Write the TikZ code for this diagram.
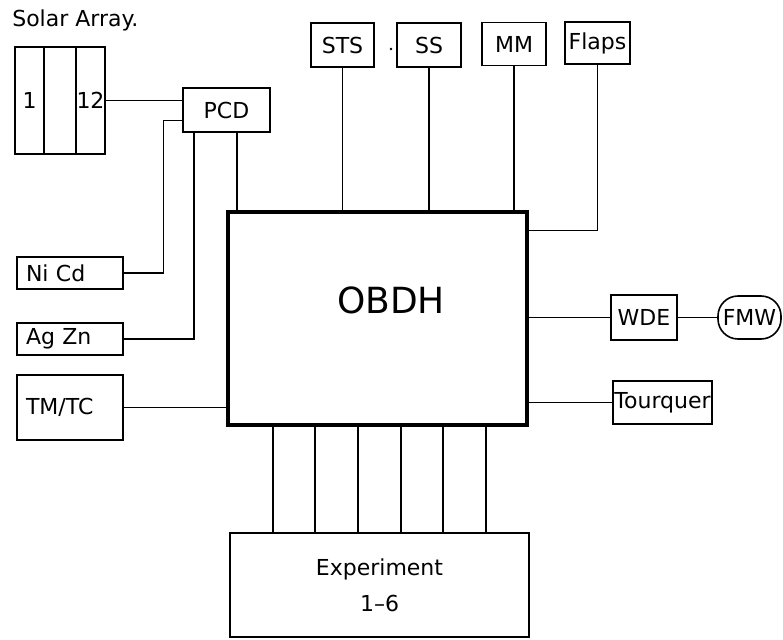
\documentclass[tikz,border=0pt]{standalone}
\usepackage{fontspec}
\setmainfont{DejaVu Sans}
\usepackage{xcolor}

\begin{document}
\begin{tikzpicture}
  [x=1pt,y=-1pt,line width=1.2pt,
   every node/.style={draw,rectangle,line width=1.6pt,inner sep=1.5pt,font=\fontsize{22}{26}\selectfont},
   unit/.style={text width=88pt,align=left,inner xsep=9pt}]
  \useasboundingbox (0,0) rectangle (783,639);

  \node[draw=none,anchor=west] (title) at (10,20) {Solar Array.};
  \node[minimum width=29,minimum height=107] (p1) at (29.5,100.5) {1};
  \node[minimum width=32,minimum height=107] (p2) at (60,100.5)  {};
  \node[minimum width=29,minimum height=107,inner sep=0pt] (p3) at (90.5,100.5) {12};
  \node[minimum width=87,minimum height=44]  (pcd) at (226.5,110) {PCD};

  \node[unit,minimum height=32] (nicd) at (70,273)   {Ni Cd};
  \node[unit,minimum height=32] (agzn) at (70,339)   {Ag Zn};
  \node[unit,minimum height=65] (tmtc) at (70,407.5) {TM/TC};

  \node[line width=3.5pt,minimum width=299,minimum height=213] (obdh) at (377.5,318.5) {};
  \node[draw=none,font=\fontsize{36}{40}\selectfont] (obdhtxt) at (391,300) {OBDH};

  \node[minimum width=63,minimum height=44] (sts)   at (342.5,45) {STS};
  \node[minimum width=64,minimum height=44] (ss)    at (429,45)   {SS};
  \node[minimum width=64,minimum height=43] (mm)    at (514,44)   {MM};
  \node[minimum width=65,minimum height=42,inner sep=0pt] (flaps) at (597.5,43) {Flaps};
  \fill (391,49) circle (1.3pt);

  \node[minimum width=66,minimum height=45] (wde) at (644,317.5) {WDE};
  \node[rounded corners=20pt,minimum width=63,minimum height=43,inner sep=0pt] (fmw) at (749.5,317.5) {FMW};
  \node[minimum width=99,minimum height=43,inner sep=0pt] (tq) at (662.5,402.5) {Tourquer};

  \node[minimum width=299,minimum height=104,align=center] (exp) at (379.5,585) {Experiment\\[10pt]1--6};

  % power lines
  \draw (p3.east) -- (p3.east -| pcd.west);
  \draw (nicd.east) -| ([xshift=-19pt,yshift=12pt]pcd.south west) -- ([yshift=12pt]pcd.south west);
  \draw (agzn.east) -| ([xshift=-32.5pt]pcd.south);
  \draw ([xshift=10.5pt]pcd.south) -- ([xshift=10.5pt]pcd.south |- obdh.north);

  % data lines
  \foreach \n in {sts,ss,mm}
    \draw (\n.south) -- (\n.south |- obdh.north);
  \draw (flaps.south) |- ([yshift=-20pt]obdh.north east);
  \draw (wde.west) -- (wde.west -| obdh.east);
  \draw (wde.east) -- (fmw.west);
  \draw (tq.west) -- (tq.west -| obdh.east);
  \draw (tmtc.east) -- (tmtc.east -| obdh.west);
  \foreach \x in {273,315,358,401,443,486}
    \draw (obdh.south -| \x,0) -- (exp.north -| \x,0);

\end{tikzpicture}
\end{document}
